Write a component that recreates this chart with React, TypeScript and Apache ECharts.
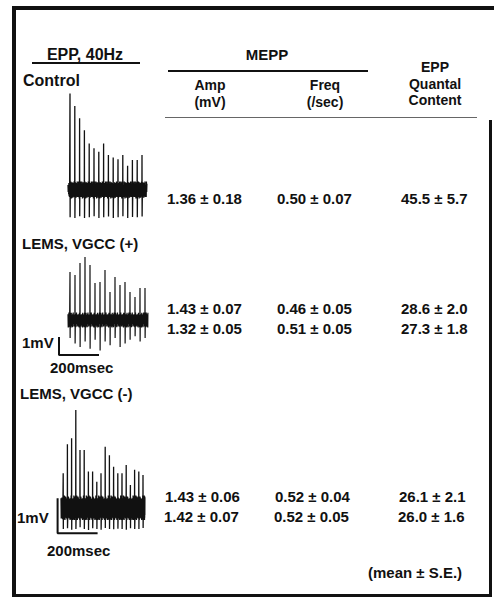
import React, { useEffect, useRef } from 'react';
import * as echarts from 'echarts';

// ---- table data ----
const groupLabels = ['Control', 'LEMS, VGCC (+)', 'LEMS, VGCC (-)'];
const ampMean = [1.36, 1.43, 1.32, 1.43, 1.42];
const ampSE = [0.18, 0.07, 0.05, 0.06, 0.07];
const freqMean = [0.5, 0.46, 0.51, 0.52, 0.52];
const freqSE = [0.07, 0.05, 0.05, 0.04, 0.05];
const qcMean = [45.5, 28.6, 27.3, 26.1, 26.0];
const qcSE = [5.7, 2.0, 1.8, 2.1, 1.6];

// ---- EPP trains (mV above baseline) ----
const controlPeaks = [2.76, 2.4, 2.05, 1.71, 1.33, 1.19, 1.09, 1.33, 1.0, 0.93, 0.88, 1.0, 0.69, 0.86, 0.86, 1.0];
const controlDips = [-0.78, -0.8, -0.75, -0.8, -0.78, -0.75, -0.8, -0.78, -0.76, -0.8, -0.78, -0.75, -0.8, -0.77, -0.78, -0.76];
const controlNoise = [0.14, -0.2, 0.24, -0.06, 0.18, -0.24, 0.1, -0.16, 0.22, -0.12, 0.05, -0.22, 0.2, -0.08, 0.15, -0.18, 0.24, -0.2, 0.02, -0.14];

const vgccPosPeaks = [2.67, 2.5, 3.17, 3.5, 3.06, 2.06, 2.11, 2.78, 1.56, 2.39, 1.94, 2.11, 1.56, 1.28, 1.78, 1.78];
const vgccPosDips = [-1.0, -1.3, -1.5, -1.2, -1.6, -1.1, -1.7, -1.2, -1.4, -1.0, -1.5, -1.3, -1.1, -0.9, -1.2, -1.0];
const vgccPosNoise = [0.32, -0.38, 0.12, -0.42, 0.4, -0.16, 0.28, -0.34, 0.06, -0.4, 0.35, -0.22, 0.42, -0.1, 0.2, -0.36, 0.3, -0.3, 0.1, -0.26];

const vgccNegPeaks = [0.99, 1.82, 1.99, 2.8, 1.66, 1.66, 1.04, 1.04, 0.75, 0.99, 1.75, 1.51, 1.18, 0.99, 0.99, 1.23, 0.66, 1.09, 1.04, 0.94];
const vgccNegDips = [-0.6, -0.58, -0.62, -0.6, -0.55, -0.6, -0.63, -0.58, -0.6, -0.62, -0.57, -0.6, -0.61, -0.59, -0.6, -0.62, -0.58, -0.6, -0.6, -0.57];
const vgccNegNoise = [0.28, -0.32, 0.12, -0.3, 0.36, -0.14, 0.22, -0.34, 0.06, -0.28, 0.33, -0.2, 0.3, -0.08, 0.18, -0.3, 0.26, -0.24, 0.14, -0.34];

// scale bars: 1 mV x 200 msec
const scaleBarMV = 1;
const scaleBarMs = 200;

const FONT = '"Liberation Sans", Arial, Helvetica, sans-serif';
const INK = '#111';

function buildTrace(peaks: number[], dips: number[], noise: number[], start: number, interval: number, end: number) {
  const pts: number[][] = [];
  const n = noise.length;
  const lead = 8;
  for (let j = 0; j < lead; j++) pts.push([((start - 1) * j) / lead, noise[(j * 3) % n]]);
  peaks.forEach((p, i) => {
    const t = start + i * interval;
    pts.push([t, p]);
    pts.push([t + 0.6, dips[i]]);
    const stop = i === peaks.length - 1 ? end : t + interval;
    for (let j = 0; j < n; j++) {
      pts.push([t + 1.5 + ((stop - t - 2) * j) / (n - 1), noise[(j + i * 7) % n]]);
    }
  });
  return pts;
}

function txt(text: string, x: number, y: number, size: number, align = 'left') {
  return {
    type: 'text',
    x,
    y,
    silent: true,
    style: {
      text,
      fill: INK,
      fontSize: size,
      fontWeight: 'bold',
      fontFamily: FONT,
      align,
      verticalAlign: 'middle',
      textAlign: align,
      textVerticalAlign: 'middle',
    },
  };
}

function rect(x: number, y: number, w: number, h: number, fill = INK) {
  return { type: 'rect', silent: true, shape: { x, y, width: w, height: h }, style: { fill } };
}

export default function App() {
  const ref = useRef<HTMLDivElement>(null);

  useEffect(() => {
    if (!ref.current) return;
    const chart = echarts.init(ref.current, undefined, { renderer: 'svg' });

    const rowY = [198, 308, 328, 496, 516];
    const rowShift = [0, 0, 0, -2, -3];
    const colX = [167, 277, 401];

    const graphics: any[] = [
      // frame
      rect(12, 6, 482, 4),
      rect(12, 6, 4, 591),
      rect(12, 594, 480, 3),
      rect(489, 120, 3, 477),
      // headers
      txt('EPP, 40Hz', 85, 54, 16, 'center'),
      rect(32, 62, 108, 2),
      txt('MEPP', 267, 54, 15, 'center'),
      rect(168, 70, 200, 2),
      txt('EPP', 435, 67, 14, 'center'),
      txt('Quantal', 435, 84, 14, 'center'),
      txt('Content', 435, 100, 14, 'center'),
      txt('Amp', 210, 85, 14, 'center'),
      txt('(mV)', 210, 102, 14, 'center'),
      txt('Freq', 325, 85, 14, 'center'),
      txt('(/sec)', 325, 102, 14, 'center'),
      rect(165, 117, 312, 1, '#666'),
      // group labels
      txt(groupLabels[0], 23, 80, 16),
      txt(groupLabels[1], 22, 243, 15),
      txt(groupLabels[2], 20, 393, 15),
      // scale bar labels
      txt(`${scaleBarMV}mV`, 22, 342, 15),
      txt(`${scaleBarMs}msec`, 50, 367, 15),
      txt(`${scaleBarMV}mV`, 17, 517, 15),
      txt(`${scaleBarMs}msec`, 47, 550, 15),
      txt('(mean \u00b1 S.E.)', 368, 572, 15),
    ];

    ampMean.forEach((_, i) => {
      const y = rowY[i];
      const s = rowShift[i];
      graphics.push(txt(`${ampMean[i].toFixed(2)} \u00b1 ${ampSE[i].toFixed(2)}`, colX[0] + s, y, 15));
      graphics.push(txt(`${freqMean[i].toFixed(2)} \u00b1 ${freqSE[i].toFixed(2)}`, colX[1] + s, y, 15));
      graphics.push(txt(`${qcMean[i].toFixed(1)} \u00b1 ${qcSE[i].toFixed(1)}`, colX[2] + s, y, 15));
    });

    const lineSeries = (data: number[][], idx: number, width = 1) => ({
      type: 'line',
      xAxisIndex: idx,
      yAxisIndex: idx,
      data,
      symbol: 'none',
      showSymbol: false,
      silent: true,
      clip: false,
      lineStyle: { color: INK, width },
      animation: false,
    });

    const trace1 = buildTrace(controlPeaks, controlDips, controlNoise, 10, 24, 395);
    const trace2 = buildTrace(vgccPosPeaks, vgccPosDips, vgccPosNoise, 10, 25, 400);
    const trace3 = buildTrace(vgccNegPeaks, vgccNegDips, vgccNegNoise, 11, 21, 420);

    const bar2 = [
      [-45, -1.95 + scaleBarMV],
      [-45, -1.95],
      [-45 + scaleBarMs, -1.95],
    ];
    const bar3 = [
      [-17, -0.72 + scaleBarMV],
      [-17, -0.72],
      [-17 + scaleBarMs, -0.72],
    ];

    const hiddenX = (idx: number, min: number, max: number) => ({ type: 'value', gridIndex: idx, min, max, show: false });
    const hiddenY = (idx: number, min: number, max: number) => ({ type: 'value', gridIndex: idx, min, max, show: false });

    chart.setOption({
      animation: false,
      backgroundColor: '#ffffff',
      grid: [
        { left: 68, top: 85, width: 80, height: 147 },
        { left: 56, top: 248, width: 92, height: 111.6 },
        { left: 55, top: 396, width: 92, height: 147 },
      ],
      xAxis: [hiddenX(0, 0, 400), hiddenX(1, -60, 400), hiddenX(2, -30, 430)],
      yAxis: [hiddenY(0, -1.2, 3), hiddenY(1, -2.2, 4), hiddenY(2, -1, 3.2)],
      series: [
        lineSeries(trace1, 0, 1.3),
        lineSeries(trace2, 1, 1.2),
        lineSeries(bar2, 1, 2),
        lineSeries(trace3, 2, 1.3),
        lineSeries(bar3, 2, 2),
      ],
      graphic: graphics,
    });

    return () => chart.dispose();
  }, []);

  return <div ref={ref} style={{ position: 'fixed', left: 0, top: 0, width: 494, height: 599 }} />;
}
